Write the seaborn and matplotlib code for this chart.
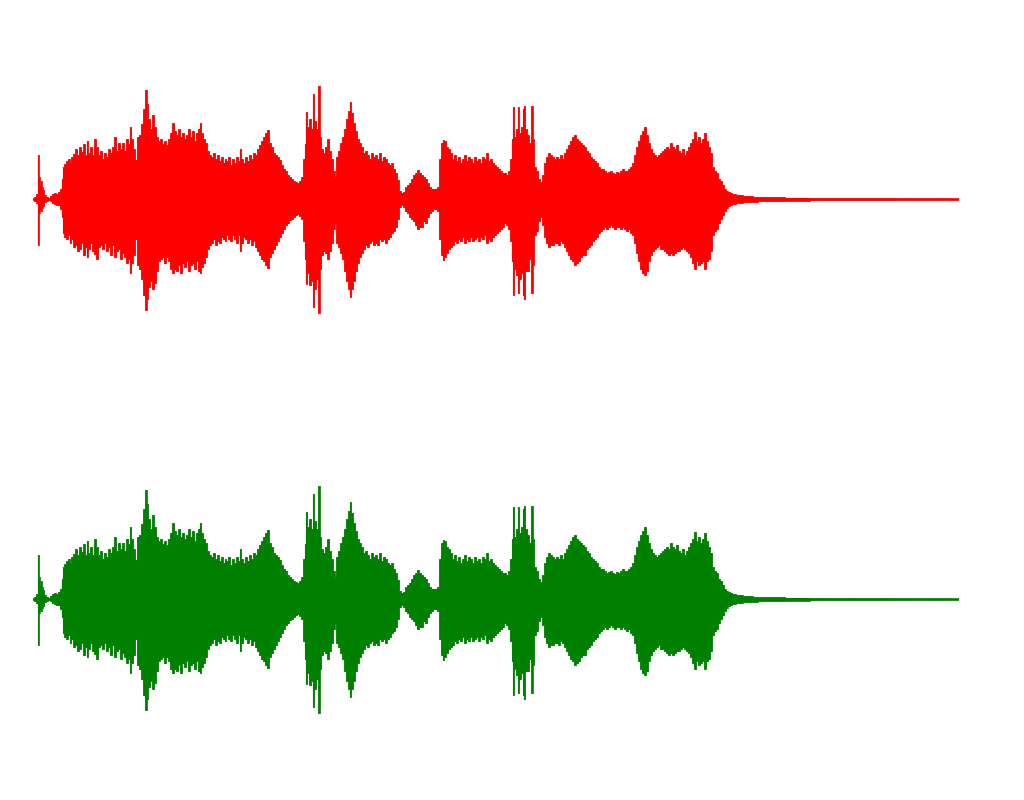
import numpy as np
import pandas as pd
import matplotlib
matplotlib.use("Agg")
import matplotlib.pyplot as plt
import seaborn as sns

# Envelope of the waveform: frame position, peak above zero, peak below zero
frame = [33, 35, 37, 38, 39, 40, 41, 42, 43, 45, 47, 49, 51, 53, 55, 57, 59, 61, 62, 63,
         65, 67, 69, 70, 72, 74, 76, 78, 80, 82, 84, 86, 87, 89, 91, 93, 95, 97, 99, 101,
         103, 105, 107, 109, 111, 113, 115, 117, 119, 121, 123, 125, 127, 129, 130, 132, 134, 136, 138, 140,
         142, 144, 146, 147, 149, 151, 153, 155, 157, 159, 161, 163, 165, 167, 169, 171, 173, 175, 177, 179,
         181, 183, 185, 187, 189, 191, 193, 195, 197, 199, 200, 202, 204, 206, 208, 210, 212, 214, 216, 218,
         220, 222, 224, 225, 227, 229, 231, 233, 235, 237, 239, 240, 242, 244, 246, 248, 250, 252, 254, 256,
         258, 260, 262, 264, 266, 268, 270, 272, 274, 276, 278, 280, 282, 284, 286, 288, 290, 292, 294, 296,
         298, 300, 302, 304, 305, 306, 308, 310, 312, 313, 315, 317, 319, 320, 322, 324, 326, 328, 330, 332,
         334, 335, 337, 339, 341, 343, 345, 347, 349, 350, 352, 354, 356, 358, 360, 362, 364, 366, 368, 370,
         372, 374, 376, 378, 380, 382, 384, 386, 388, 390, 392, 394, 396, 398, 400, 402, 404, 406, 408, 410,
         412, 414, 416, 418, 420, 422, 424, 426, 428, 430, 432, 434, 436, 438, 440, 442, 443, 445, 447, 449,
         451, 453, 455, 457, 459, 461, 463, 465, 467, 469, 471, 473, 475, 477, 479, 481, 483, 485, 487, 489,
         491, 493, 495, 497, 499, 501, 503, 505, 507, 509, 511, 512, 513, 515, 517, 518, 520, 522, 523, 524,
         526, 528, 530, 532, 533, 535, 537, 539, 541, 543, 545, 547, 549, 551, 553, 555, 557, 559, 561, 563,
         565, 567, 569, 571, 573, 575, 577, 579, 581, 583, 585, 587, 589, 591, 593, 595, 597, 599, 601, 603,
         605, 607, 609, 611, 613, 615, 617, 619, 621, 623, 625, 627, 629, 631, 633, 635, 637, 639, 641, 643,
         645, 647, 649, 651, 653, 655, 657, 659, 661, 663, 665, 667, 669, 671, 673, 675, 677, 679, 681, 683,
         685, 687, 689, 691, 693, 695, 697, 699, 701, 703, 705, 707, 709, 711, 713, 715, 717, 719, 721, 723,
         725, 727, 729, 731, 733, 735, 737, 740, 745, 750, 755, 760, 770, 780, 790, 800, 820, 850, 880, 910,
         940, 958]

peak_up = [1, 2, 5, 44, 22, 14, 18, 12, 9, 4, 2, 1, 3, 5, 6, 5, 7, 10, 20, 32,
           35, 38, 40, 36, 42, 45, 50, 44, 52, 47, 55, 44, 58, 46, 52, 44, 60, 52, 44, 48,
           40, 46, 42, 50, 46, 52, 62, 48, 56, 50, 56, 48, 60, 55, 72, 60, 50, 39, 62, 64,
           75, 90, 109, 95, 80, 70, 84, 72, 62, 58, 60, 55, 58, 54, 60, 66, 76, 68, 64, 70,
           62, 66, 60, 64, 70, 62, 68, 58, 66, 70, 76, 66, 60, 56, 48, 44, 42, 46, 40, 44,
           38, 42, 36, 40, 38, 42, 34, 40, 36, 42, 38, 50, 40, 36, 42, 38, 44, 40, 46, 44,
           50, 54, 58, 62, 66, 69, 56, 52, 46, 44, 42, 39, 34, 30, 28, 24, 22, 20, 18, 17,
           16, 18, 22, 40, 55, 87, 72, 80, 70, 105, 78, 70, 113, 62, 50, 46, 52, 60, 48, 40,
           28, 22, 42, 48, 56, 62, 70, 80, 88, 97, 86, 76, 68, 60, 56, 52, 46, 48, 44, 40,
           46, 42, 44, 40, 46, 38, 42, 40, 36, 34, 36, 30, 26, 19, 8, 6, 7, 12, 14, 16,
           20, 24, 26, 29, 26, 24, 22, 20, 16, 12, 10, 10, 10, 12, 40, 56, 59, 58, 52, 50,
           46, 40, 44, 38, 42, 36, 40, 44, 38, 42, 40, 36, 42, 38, 40, 36, 42, 40, 46, 38,
           40, 36, 34, 32, 30, 28, 26, 26, 24, 28, 40, 60, 92, 62, 70, 92, 66, 72, 90, 93,
           70, 64, 56, 93, 60, 32, 28, 20, 17, 24, 36, 42, 46, 44, 42, 40, 42, 40, 44, 40,
           46, 50, 54, 58, 62, 64, 60, 58, 56, 54, 52, 48, 46, 42, 40, 38, 36, 32, 30, 30,
           28, 26, 27, 28, 26, 25, 27, 26, 28, 30, 28, 28, 30, 32, 36, 44, 52, 58, 64, 68,
           72, 64, 56, 50, 46, 44, 42, 44, 46, 48, 50, 52, 50, 56, 52, 50, 54, 48, 46, 50,
           44, 48, 52, 56, 60, 67, 58, 62, 56, 60, 66, 58, 52, 46, 32, 28, 26, 20, 18, 14,
           10, 8, 7, 6, 5, 5, 4, 4, 3, 3, 2, 2, 2, 2, 1.5, 1.5, 1, 1, 1, 0.8,
           0.8, 0.6]

peak_down = [1, 2, 4, 46, 14, 10, 12, 9, 7, 3, 2, 1, 2, 4, 5, 6, 6, 10, 18, 34,
             38, 40, 36, 44, 40, 48, 46, 52, 50, 44, 56, 48, 58, 50, 44, 52, 55, 60, 48, 46,
             50, 44, 52, 48, 56, 46, 58, 52, 50, 60, 54, 58, 64, 60, 74, 64, 56, 40, 66, 70,
             80, 96, 111, 100, 88, 82, 90, 84, 72, 62, 60, 58, 64, 58, 62, 70, 74, 70, 72, 66,
             74, 64, 68, 62, 72, 66, 64, 70, 62, 72, 74, 68, 64, 58, 50, 46, 44, 40, 46, 42,
             44, 38, 40, 42, 36, 40, 42, 36, 40, 44, 36, 52, 44, 38, 40, 44, 40, 46, 42, 48,
             52, 56, 60, 62, 66, 69, 58, 54, 50, 46, 42, 38, 34, 30, 26, 24, 21, 20, 18, 16,
             15, 17, 20, 42, 60, 85, 74, 86, 82, 108, 90, 80, 114, 70, 56, 52, 54, 60, 52, 44,
             30, 24, 44, 48, 54, 60, 72, 82, 90, 98, 90, 82, 72, 64, 58, 54, 50, 46, 48, 44,
             42, 46, 44, 46, 40, 42, 40, 44, 40, 38, 34, 32, 28, 20, 8, 6, 8, 12, 14, 18,
             20, 22, 26, 30, 28, 28, 22, 24, 18, 14, 12, 10, 10, 12, 40, 56, 61, 58, 54, 50,
             48, 46, 42, 44, 40, 42, 38, 44, 40, 42, 38, 42, 40, 38, 42, 38, 40, 36, 44, 40,
             42, 38, 36, 34, 32, 30, 28, 24, 26, 30, 42, 62, 96, 70, 76, 94, 80, 74, 96, 100,
             72, 72, 60, 94, 66, 36, 32, 22, 18, 26, 38, 44, 48, 46, 46, 44, 44, 46, 42, 44,
             48, 52, 56, 60, 62, 66, 64, 62, 58, 56, 56, 50, 48, 46, 42, 40, 38, 34, 32, 30,
             28, 30, 28, 26, 28, 30, 28, 28, 30, 28, 30, 32, 30, 34, 36, 44, 54, 62, 70, 74,
             76, 72, 62, 56, 52, 50, 48, 46, 50, 50, 52, 54, 56, 54, 56, 54, 52, 52, 50, 48,
             50, 52, 54, 58, 64, 70, 62, 66, 64, 62, 70, 62, 60, 52, 36, 32, 30, 24, 20, 16,
             12, 9, 7, 6, 5, 5, 4, 4, 3, 3, 3, 2, 2, 2, 1.5, 1.5, 1, 1, 1, 0.8,
             0.8, 0.6]

channels = ["left", "right"]
channel_colors = ["#ff0000", "#008000"]

sns.set_theme(style="white")

env = pd.DataFrame({"frame": frame,
                    "up": np.array(peak_up, dtype=float),
                    "down": -np.array(peak_down, dtype=float)})

fig = plt.figure(figsize=(10.24, 8), dpi=100)
fig.patch.set_facecolor("white")

for i, (name, color) in enumerate(zip(channels, channel_colors)):
    ax = fig.add_axes([0, 0.5 - 0.5 * i, 1, 0.5])
    # column-like look of a sampled waveform
    ax.fill_between(env["frame"], env["down"], env["up"], step="mid",
                    color=color, linewidth=0, antialiased=False)
    sns.lineplot(data=env, x="frame", y="up", color=color, linewidth=0.6,
                 drawstyle="steps-mid", ax=ax)
    sns.lineplot(data=env, x="frame", y="down", color=color, linewidth=0.6,
                 drawstyle="steps-mid", ax=ax)
    ax.vlines(env["frame"], env["down"], env["up"], color=color, linewidth=0.8)
    ax.set_xlim(0, 1024)
    ax.set_ylim(-201, 199)
    ax.set_axis_off()

fig.savefig("out.png", dpi=100, facecolor="white")
